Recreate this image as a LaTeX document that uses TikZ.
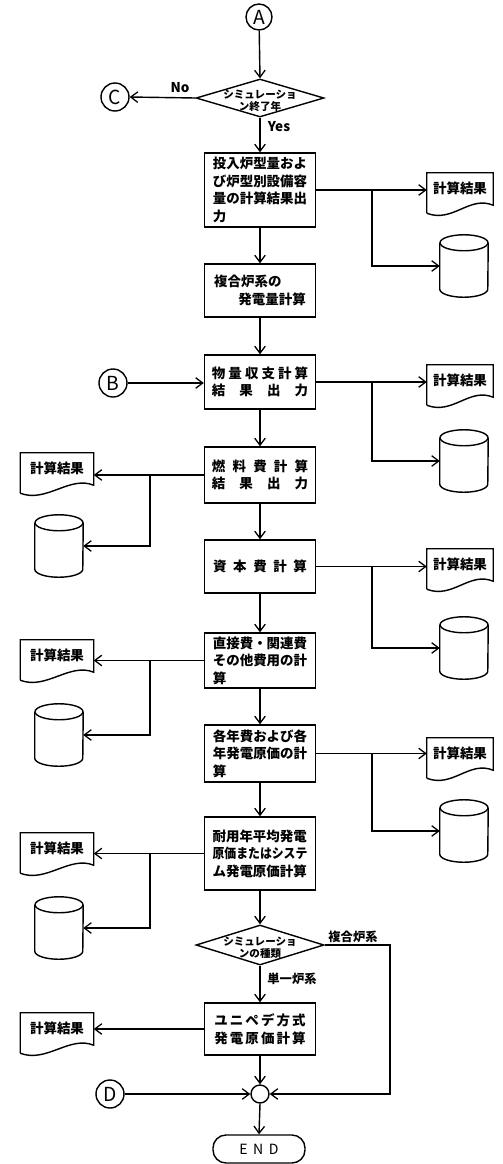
\documentclass[tikz,border=0pt]{standalone}
\usepackage{fontspec}
\setmainfont{Noto Sans CJK JP}
\usepackage{graphicx}
\usetikzlibrary{arrows.meta,shapes.geometric,calc}
\newlength\pxu
\setlength\pxu{0.03cm}
\newcommand\jpf{\fontsize{11.5}{15}\selectfont\bfseries}
\newcommand\spr[2][82pt]{\makebox[#1]{#2}}
\newcommand\drawcyl[1]{%
  \draw[ln] ($(#1.north)+(0,8)$) ellipse[x radius=24\pxu, y radius=8\pxu];
  \draw[ln] ($(#1.north west)+(0,8)$) -- ($(#1.south west)+(0,-8)$)
     arc[start angle=180,end angle=360,x radius=24\pxu,y radius=8\pxu]
     -- ($(#1.north east)+(0,8)$);}
\newcommand\drawdoc[1]{%
  \draw[ln] ($(#1.south west)+(0,10)$) -- (#1.north west) -- (#1.north east)
     -- ($(#1.south east)+(0,2)$)
     .. controls ($(#1.south east)+(-24,-8)$) and ($(#1.south west)+(26,20)$) ..
     ($(#1.south west)+(0,10)$);}
\begin{document}
\begin{tikzpicture}[x=0.03cm,y=-0.03cm,
  ln/.style={line width=1.2pt},
  arr/.style={ln,-{Straight Barb[length=6pt,width=9pt,line width=1.1pt]}},
  pbox/.style={draw,ln,minimum width=111\pxu,inner sep=2pt,align=left,font=\jpf},
  pdia/.style={draw,ln,diamond,minimum width=128\pxu,minimum height=38\pxu,inner sep=0pt},
  dtext/.style={align=center,font=\fontsize{9}{10.5}\selectfont\bfseries,inner sep=0pt},
  circ/.style={draw,ln,circle,minimum size=26\pxu,inner sep=0pt,font=\fontsize{16.5}{16.5}\selectfont},
  docbox/.style={minimum width=66\pxu,minimum height=30\pxu,inner sep=0pt,font=\fontsize{11.5}{13}\selectfont\bfseries},
  ldocbox/.style={docbox,minimum width=73\pxu},
  cylbox/.style={minimum width=48\pxu,minimum height=62\pxu,inner sep=0pt},
  lbl/.style={font=\fontsize{11.5}{13}\selectfont\bfseries,inner sep=0pt},
  jlbl/.style={font=\fontsize{10.5}{12}\selectfont\bfseries,inner sep=0pt}]
\useasboundingbox (0,0) rectangle (503,1164);
\coordinate (brr) at (372,0);
\coordinate (brl) at (150,0);
\coordinate (cr) at (390,0);
% main column
\node[circ] (A) at (259,17) {A};
\node[pdia] (d1) at (260,98) {};
\node[dtext] at ($(d1)+(0,3)$) {シミュレーショ\\ン終了年};
\node[circ,minimum size=28\pxu] (C) at (115,97) {C};
\node[lbl] at (180,88) {No};
\node[lbl] at (279,127) {Yes};
\node[pbox,minimum height=74\pxu] (b1) at (260,190) {投入炉型量およ\\び炉型別設備容\\量の計算結果出\\力};
\node[pbox,minimum height=53\pxu] (b2) at (260,290.5) {複合炉系の\\\hspace*{1.8em}発電量計算};
\node[pbox,minimum height=54\pxu] (b3) at (260,382) {\spr{物\hfill 量\hfill 収\hfill 支\hfill 計\hfill 算}\\\spr{結\hfill 果\hfill 出\hfill 力}};
\node[circ,minimum size=28\pxu] (B) at (113,383) {B};
\node[pbox,minimum height=56\pxu] (b4) at (260,475) {\spr{燃\hfill 料\hfill 費\hfill 計\hfill 算}\\\spr{結\hfill 果\hfill 出\hfill 力}};
\node[pbox,minimum height=53\pxu] (b5) at (260,566.5) {\spr[80pt]{資\hfill 本\hfill 費\hfill 計\hfill 算}};
\node[pbox,minimum height=55\pxu] (b6) at (260,660.5) {直接費・関連費\\その他費用の計\\算};
\node[pbox,minimum height=57\pxu] (b7) at (260,753.5) {各年費および各\\年発電原価の計\\算};
\node[pbox,minimum height=73\pxu] (b8) at (260,853.5) {耐用年平均発電\\\scalebox{0.88}[1]{原価またはシステ}\\ム発電原価計算};
\node[pdia,minimum height=40\pxu] (d2) at (260,945) {};
\node[dtext] at ($(d2)+(0,3)$) {シミュレーショ\\ンの種類};
\node[jlbl] at (353,937) {複合炉系};
\node[jlbl] at (292,979) {単一炉系};
\node[pbox,minimum height=52\pxu] (b9) at (260,1029) {\spr[78pt]{ユ\hfill ニ\hfill ペ\hfill デ\hfill 方\hfill 式}\\\spr[78pt]{発\hfill 電\hfill 原\hfill 価\hfill 計\hfill 算}};
\node[draw,ln,circle,minimum size=18\pxu,inner sep=0pt] (j) at (260,1094) {};
\node[circ,minimum size=28\pxu] (D) at (110,1094) {D};
\node[draw,ln,rounded corners=13\pxu,minimum width=92\pxu,minimum height=28\pxu,font=\fontsize{12}{13}\selectfont] (END) at (259,1149) {E\hspace{0.4em}N\hspace{0.4em}D};
% outputs
\node[docbox] (r1) at (460,188) {計算結果};
\node[cylbox] (c1) at (464,266) {};
\node[docbox] (r3) at (460,380) {計算結果};
\node[cylbox] (c3) at (464,461) {};
\node[docbox] (r5) at (460,564) {計算結果};
\node[cylbox] (c5) at (464,648) {};
\node[docbox] (r7) at (460,753) {計算結果};
\node[cylbox] (c7) at (464,831) {};
\node[ldocbox] (l4) at (57,468) {計算結果};
\node[cylbox] (cl4) at (59,546) {};
\node[ldocbox] (l6) at (57,655) {計算結果};
\node[cylbox] (cl6) at (59,735) {};
\node[ldocbox] (l8) at (57,848) {計算結果};
\node[cylbox] (cl8) at (59,928) {};
\node[ldocbox] (l9) at (57,1028) {計算結果};
\foreach \n in {r1,r3,r5,r7,l4,l6,l8,l9} {\drawdoc{\n}}
\foreach \n in {c1,c3,c5,c7,cl4,cl6,cl8} {\drawcyl{\n}}
% connectors
\draw[arr] (A) -- (d1.north);
\draw[arr] (d1.west) -- (C.east);
\draw[arr] (d1.south) -- (b1.north);
\draw[arr] (b1.south) -- (b2.north);
\draw[arr] (b2.south) -- (b3.north);
\draw[arr] (b3.south) -- (b4.north);
\draw[arr] (b4.south) -- (b5.north);
\draw[arr] (b5.south) -- (b6.north);
\draw[arr] (b6.south) -- (b7.north);
\draw[arr] (b7.south) -- (b8.north);
\draw[arr] (b8.south) -- (d2.north);
\draw[arr] (d2.south) -- (b9.north);
\draw[arr] (b9.south) -- (j.north);
\draw[arr] (D.east) -- (j.west);
\draw[arr] (d2.east) -- (d2.east -| cr) |- (j.east);
\draw[arr] (j.south) -- (END.north);
\draw[arr] (B.east) -- (B.east -| b3.west);
\foreach \b/\r/\c in {b1/r1/c1,b3/r3/c3,b5/r5/c5,b7/r7/c7} {
  \draw[arr] (\b.east) -- (\b.east -| \r.west);
  \draw[arr] (\b.east -| brr) |- (\c.west);
}
\foreach \b/\l/\c in {b4/l4/cl4,b6/l6/cl6,b8/l8/cl8} {
  \draw[arr] (\b.west) -- (\b.west -| \l.east);
  \draw[arr] (\b.west -| brl) |- (\c.east);
}
\draw[arr] (b9.west) -- (b9.west -| l9.east);
\end{tikzpicture}
\end{document}
